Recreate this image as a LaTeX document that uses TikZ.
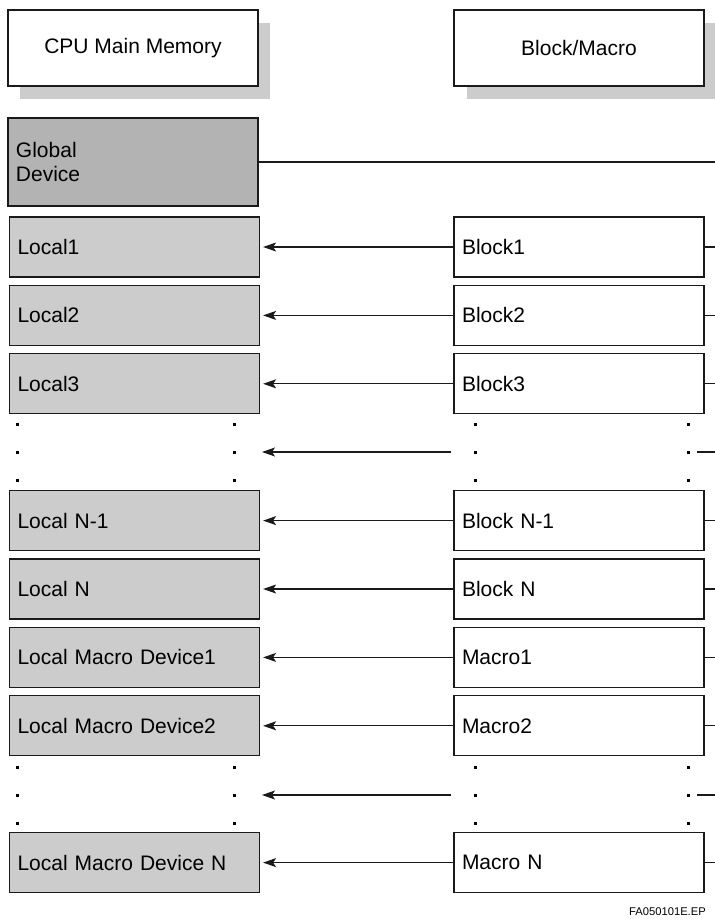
\documentclass[tikz,border=0pt]{standalone}
\usepackage{fontspec}
\setmainfont{Liberation Sans}
\usetikzlibrary{arrows.meta}
\definecolor{shadowgray}{HTML}{CCCCCC}
\definecolor{globgray}{HTML}{B3B3B3}
\definecolor{locgray}{HTML}{CCCCCC}
\definecolor{edge}{HTML}{1A1A1A}
\begin{document}
\begin{tikzpicture}[x=1pt,y=-1pt,
  every node/.style={font=\fontsize{21}{24}\selectfont},
  hdr/.style={draw=edge,line width=1.2pt,fill=white,minimum width=250pt,minimum height=76pt,inner sep=0pt},
  leftbox/.style={draw=edge,line width=1.2pt,minimum height=60pt,text width=234pt,inner xsep=8pt,inner ysep=0pt,align=left},
  globbox/.style={leftbox,fill=globgray,minimum height=88pt},
  locbox/.style={leftbox,fill=locgray},
  blkbox/.style={leftbox,fill=white},
  conn/.style={line width=1.2pt,draw=edge},
  arr/.style={conn,-{Stealth[length=13pt,width=9pt,inset=3pt]},shorten >=3pt},
  dotsq/.style={fill=black}
]
\useasboundingbox (0,0) rectangle (715,922);
\coordinate (R) at (715,0);

% headers
\fill[shadowgray] (20,23) rectangle (270,99);
\fill[shadowgray] (467,23) rectangle (715,99);
\node[hdr] (cpu) at (133,48) {CPU Main Memory};
\node[hdr] (bm) at (579,48) {Block/Macro};

% global
\node[globbox] (glob) at (133,162) {Global\\Device};
\draw[conn] (glob.east) -- (glob.east -| R);

% rows
\foreach \name/\lt/\bt/\y in {1/Local1/Block1/247, 2/Local2/Block2/315.4, 3/Local3/Block3/383.8,
  4/Local N-1/Block N-1/520.6, 5/Local N/Block N/589, 6/Local Macro Device1/Macro1/657.4,
  7/Local Macro Device2/Macro2/725.8, 8/Local Macro Device N/Macro N/862.6}{
  \node[locbox] (l\name) at (134.5,\y) {\lt};
  \node[blkbox] (b\name) at (579,\y) {\bt};
  \draw[arr] (b\name.west) -- (l\name.east);
  \draw[conn] (b\name.east) -- (b\name.east -| R);
}

% dotted gaps
\foreach \g/\y in {a/452, b/795}{
  \coordinate (s\g) at (451,\y);
  \coordinate (t\g) at (259,\y);
  \coordinate (r\g) at (697,\y);
  \draw[arr] (s\g) -- (t\g);
  \draw[conn] (r\g) -- (r\g -| R);
  \foreach \dy in {-28,0,28}{
    \foreach \x in {17,234,475,688}{
      \fill[dotsq] (\x-1.5,\y+\dy-1.5) rectangle ++(3,3);
    }
  }
}

% footer
\node[anchor=base east,font=\fontsize{11.2}{13}\selectfont,inner sep=0pt] (fig) at (706,915) {FA050101E.EP};
\end{tikzpicture}
\end{document}
